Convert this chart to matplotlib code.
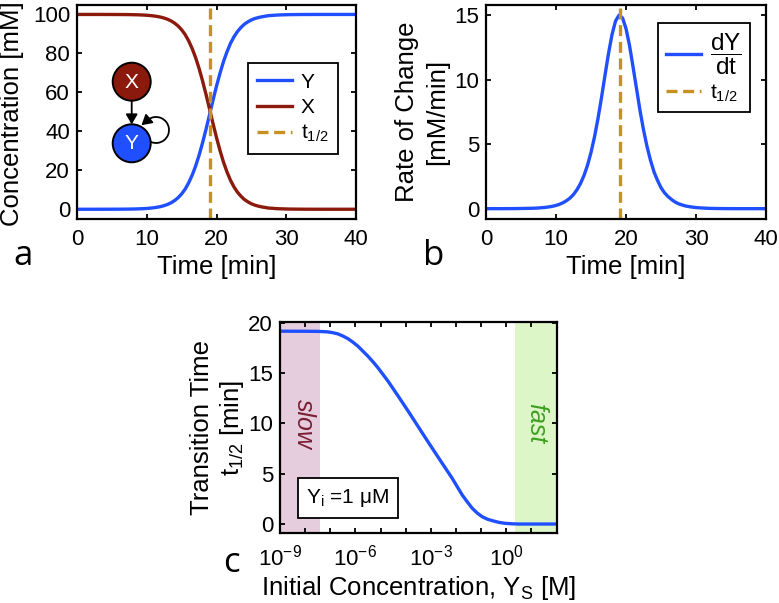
import numpy as np
import matplotlib
matplotlib.use("Agg")
import matplotlib.pyplot as plt
from matplotlib.patches import Circle, Arc, FancyArrowPatch
from matplotlib.ticker import FixedLocator, FixedFormatter, NullLocator

plt.rcParams['font.family'] = ['Liberation Sans', 'DejaVu Sans']
plt.rcParams['mathtext.fontset'] = 'custom'
plt.rcParams['mathtext.rm'] = 'Liberation Sans'
plt.rcParams['mathtext.it'] = 'Liberation Sans:italic'
plt.rcParams['mathtext.bf'] = 'Liberation Sans:bold'

# ---------------- data ----------------
time_min = [0, 2, 4, 6, 7, 7.5, 8, 8.5, 9, 9.5, 10, 10.5, 11, 11.5, 12, 12.5, 13, 13.5,
            14, 14.5, 15, 15.5, 16, 16.5, 17, 17.5, 18, 18.5, 19, 19.5, 20, 20.5, 21,
            21.5, 22, 22.5, 23, 23.5, 24, 24.5, 25, 25.5, 26, 26.5, 27, 27.5, 28, 28.5,
            29, 29.5, 30, 30.5, 31, 31.5, 32, 32.5, 33, 34, 36, 38, 40]
conc_Y = [0.0, 0.0, 0.01, 0.04, 0.07, 0.09, 0.13, 0.17, 0.23, 0.31, 0.42, 0.57, 0.77, 1.04,
          1.39, 1.87, 2.51, 3.36, 4.48, 5.95, 7.87, 10.3, 13.5, 17.4, 22.1, 27.7, 34.1,
          41.1, 48.5, 56.0, 63.2, 69.8, 75.8, 80.8, 85.1, 88.5, 91.2, 93.3, 95.0, 96.2,
          97.2, 97.9, 98.4, 98.8, 99.1, 99.4, 99.5, 99.65, 99.74, 99.8, 99.86, 99.9,
          99.92, 99.94, 99.96, 99.97, 99.98, 99.99, 100, 100, 100]
conc_X = [100, 100, 99.99, 99.96, 99.93, 99.91, 99.87, 99.83, 99.77, 99.69, 99.58, 99.43,
          99.23, 98.96, 98.61, 98.13, 97.49, 96.64, 95.52, 94.05, 92.13, 89.7, 86.5, 82.6,
          77.9, 72.3, 65.9, 58.9, 51.5, 44.0, 36.8, 30.2, 24.2, 19.2, 14.9, 11.5, 8.8,
          6.7, 5.0, 3.8, 2.8, 2.1, 1.6, 1.2, 0.9, 0.6, 0.5, 0.35, 0.26, 0.2, 0.14, 0.1,
          0.08, 0.06, 0.04, 0.03, 0.02, 0.01, 0, 0, 0]
rate_dYdt = [0.0, 0.0, 0.006, 0.024, 0.04, 0.054, 0.078, 0.10, 0.14, 0.185, 0.25, 0.34,
             0.46, 0.62, 0.82, 1.10, 1.47, 1.95, 2.57, 3.36, 4.35, 5.56, 6.99, 8.61, 10.33,
             12.02, 13.48, 14.53, 14.99, 14.78, 13.95, 12.65, 11.0, 9.31, 7.61, 6.11, 4.82,
             3.75, 2.85, 2.19, 1.63, 1.23, 0.94, 0.71, 0.52, 0.38, 0.29, 0.21, 0.16, 0.12,
             0.086, 0.065, 0.048, 0.035, 0.024, 0.018, 0.013, 0.006, 0.0, 0.0, 0.0]
t_half_ab = 19.1

ys_exponent = [-9, -8, -7.5, -7.1, -6.9, -6.7, -6.5, -6.3, -6.1, -5.9, -5.7, -5.5, -5.3,
               -5.1, -4.7, -4.3, -3.9, -3.55, -3.2, -2.7, -2.15, -1.75, -1.55, -1.35,
               -1.15, -0.95, -0.75, -0.55, -0.3, -0.05, 0.25, 0.5, 1, 2]
t_half_c = [19.14, 19.13, 19.12, 19.07, 18.99, 18.87, 18.66, 18.4, 18.05, 17.65, 17.15,
            16.65, 16.1, 15.5, 14.17, 12.7, 11.2, 9.85, 8.5, 6.6, 4.54, 2.88, 2.2, 1.56,
            1.08, 0.72, 0.48, 0.33, 0.17, 0.07, 0.02, 0.0, 0.0, 0.0]
slow_range = (1e-9, 4e-8)
fast_range = (2.3, 1e2)
c_tick_exponents = list(range(-9, 3))
c_labeled_exponents = [-9, -6, -3, 0]

BLUE = '#1f4fff'
RED = '#8b1a0c'
GOLD = '#c8901f'
DASH = (0, (3.3, 1.7))

W, H = 779, 603
fig = plt.figure(figsize=(W / 100, H / 100), dpi=100)


def px_axes(l, t, r, b):
    return fig.add_axes([l / W, 1 - b / H, (r - l) / W, (b - t) / H])


TICK_FS = 16
LABEL_FS = 18.5
LEG_FS = 15


def style(ax, xpad=7.5, ypad=5):
    for s in ax.spines.values():
        s.set_linewidth(1.6)
    ax.tick_params(which='both', direction='in', length=3.8, width=1.3, top=True,
                   right=True, labelsize=TICK_FS)
    ax.tick_params(axis='x', pad=xpad)
    ax.tick_params(axis='y', pad=ypad)


# ---------------- panel a ----------------
axA = px_axes(77, 4.7, 356, 219)
lY, = axA.plot(time_min, conc_Y, color=BLUE, lw=2.4)
lX, = axA.plot(time_min, conc_X, color=RED, lw=2.4)
lT = axA.axvline(t_half_ab, color=GOLD, lw=2.4, ls=DASH)
axA.set_xlim(0, 40)
axA.set_ylim(-5, 105)
axA.set_xticks([0, 10, 20, 30, 40])
axA.set_yticks([0, 20, 40, 60, 80, 100])
style(axA)
axA.set_xlabel('Time [min]', fontsize=LABEL_FS)
axA.xaxis.label.set_va('center')
axA.xaxis.set_label_coords(0.5, -0.222)
axA.set_ylabel('Concentration [mM]', fontsize=LABEL_FS)
axA.yaxis.label.set_va('center')
axA.yaxis.set_label_coords(-0.233, 0.49)
legA = axA.legend([lY, lX, lT], ['Y', 'X', 't$_{1/2}$'], loc='upper right',
                  bbox_to_anchor=(0.935, 0.727), fontsize=LEG_FS, fancybox=False,
                  edgecolor='black', framealpha=1, handlelength=1.65, borderaxespad=0,
                  labelspacing=0.3, handletextpad=0.45, borderpad=0.45)
legA.get_frame().set_linewidth(1.3)

# network diagram (pixel coordinates, y up)
axD = fig.add_axes([100 / W, 433 / H, 80 / W, 110 / H])
axD.set_xlim(100, 180)
axD.set_ylim(433, 543)
axD.axis('off')
axD.patch.set_alpha(0)
axD.add_patch(Circle((131.7, 521.3), 19, fc=RED, ec='black', lw=1.4, zorder=3))
axD.add_patch(Circle((131.7, 459.7), 19, fc=BLUE, ec='black', lw=1.4, zorder=3))
axD.text(131.7, 520.8, 'X', color='white', fontsize=15, ha='center', va='center', zorder=4)
axD.text(131.7, 459.2, 'Y', color='white', fontsize=15, ha='center', va='center', zorder=4)
axD.add_patch(FancyArrowPatch((131.7, 502.3), (131.7, 478.6),
                              arrowstyle='-|>,head_length=0.6,head_width=0.35',
                              mutation_scale=10, color='black', lw=1.3,
                              shrinkA=0, shrinkB=0, zorder=2))
axD.add_patch(Arc((156, 473), 26, 26, theta1=-113, theta2=128, color='black', lw=1.3))
axD.add_patch(FancyArrowPatch((148.5, 483.8), (141.5, 477.8),
                              arrowstyle='-|>,head_length=0.6,head_width=0.35',
                              mutation_scale=10, color='black', lw=1.3,
                              shrinkA=0, shrinkB=0, zorder=2))

# ---------------- panel b ----------------
axB = px_axes(486, 4.7, 766, 219)
lR, = axB.plot(time_min, rate_dYdt, color=BLUE, lw=2.4)
lT2 = axB.axvline(t_half_ab, color=GOLD, lw=2.4, ls=DASH)
axB.set_xlim(0, 40)
axB.set_ylim(-0.8, 15.8)
axB.set_xticks([0, 10, 20, 30, 40])
axB.set_yticks([0, 5, 10, 15])
style(axB)
axB.set_xlabel('Time [min]', fontsize=LABEL_FS)
axB.xaxis.label.set_va('center')
axB.xaxis.set_label_coords(0.5, -0.222)
axB.set_ylabel('Rate of Change\n[mM/min]', fontsize=LABEL_FS, linespacing=1.35)
axB.yaxis.label.set_va('center')
axB.yaxis.set_label_coords(-0.229, 0.5)
legB = axB.legend([lR, lT2], [r'$\dfrac{\mathrm{dY}}{\mathrm{dt}}$', 't$_{1/2}$'],
                  loc='upper right', bbox_to_anchor=(0.943, 0.914), fontsize=LEG_FS,
                  fancybox=False, edgecolor='black', framealpha=1, handlelength=1.65,
                  borderaxespad=0, labelspacing=0.25, handletextpad=0.45, borderpad=0.4)
legB.get_frame().set_linewidth(1.3)
legB.get_texts()[0].set_fontsize(17.5)

# ---------------- panel c ----------------
axC = px_axes(280, 322, 556.5, 533.3)
ys_values = [10.0 ** e for e in ys_exponent]
axC.axvspan(*slow_range, color='#e6cddd', lw=0, zorder=0)
axC.axvspan(*fast_range, color='#ddf6c8', lw=0, zorder=0)
axC.plot(ys_values, t_half_c, color=BLUE, lw=2.4)
axC.set_xscale('log')
axC.set_xlim(1e-9, 1e2)
axC.set_ylim(-0.92, 20.05)
axC.set_yticks([0, 5, 10, 15, 20])
axC.xaxis.set_major_locator(FixedLocator([10.0 ** k for k in c_tick_exponents]))
axC.xaxis.set_major_formatter(FixedFormatter(
    [(r'$10^{%d}$' % k) if k in c_labeled_exponents else '' for k in c_tick_exponents]))
axC.xaxis.set_minor_locator(NullLocator())
style(axC, xpad=8)
axC.set_xlabel('Initial Concentration, Y$_\\mathrm{S}$ [M]', fontsize=LABEL_FS)
axC.xaxis.label.set_va('center')
axC.xaxis.set_label_coords(0.503, -0.26)
axC.set_ylabel('Transition Time\nt$_{1/2}$ [min]', fontsize=LABEL_FS, linespacing=1.2)
axC.yaxis.label.set_va('center')
axC.yaxis.set_label_coords(-0.224, 0.5)
axC.text(0.087, 0.517, 'slow', rotation=-90, style='italic', color='#7a1f33',
         fontsize=18, ha='center', va='center', transform=axC.transAxes)
axC.text(0.928, 0.522, 'fast', rotation=-90, style='italic', color='#3f9f22',
         fontsize=18, ha='center', va='center', transform=axC.transAxes)
axC.text(0.246, 0.167, 'Y$_\\mathrm{i}$ =1 \u03bcM', fontsize=15, ha='center', va='center',
         transform=axC.transAxes,
         bbox=dict(boxstyle='square,pad=0.42', fc='white', ec='black', lw=1.3))

# panel letters
for letter, x, y in [('a', 23.5, 265), ('b', 434, 265), ('c', 231, 572)]:
    fig.text(x / W, 1 - y / H, letter, fontsize=25, family=['Open Sans', 'DejaVu Sans'],
             ha='center', va='baseline')

fig.savefig('out.png', dpi=100)
